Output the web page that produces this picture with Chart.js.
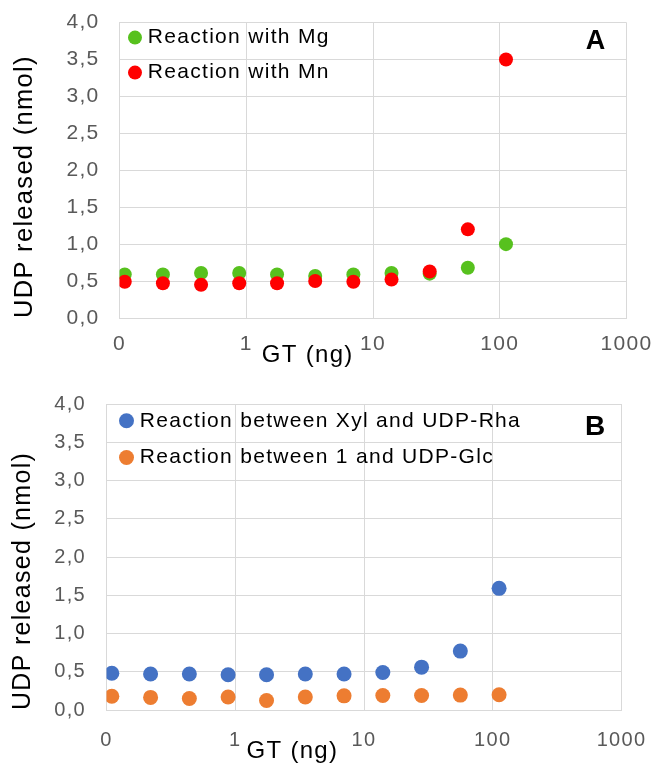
<!DOCTYPE html>
<html><head><meta charset="utf-8">
<script src="https://cdn.jsdelivr.net/npm/chart.js@4.4.1/dist/chart.umd.min.js"></script>
<style>
html,body{margin:0;padding:0;background:#fff;}
#wrap{position:relative;width:654px;height:764px;overflow:hidden;background:#fff;}
canvas{position:absolute;left:0;}
#cA{top:0;}
#cB{top:380px;}
</style></head><body>
<div id="wrap"><canvas id="cA" width="654" height="380"></canvas><canvas id="cB" width="654" height="384"></canvas></div>
<script>
// ---- data ----
const gtAmounts = [0.11, 0.22, 0.44, 0.88, 1.75, 3.5, 7, 14, 28, 56, 112];
const mgRelease = [0.59, 0.59, 0.61, 0.61, 0.59, 0.57, 0.59, 0.61, 0.60, 0.68, 1.00];
const mnRelease = [0.49, 0.47, 0.45, 0.47, 0.47, 0.50, 0.49, 0.52, 0.63, 1.20, 3.50];
const xylRhaRelease = [0.48, 0.47, 0.47, 0.46, 0.46, 0.47, 0.47, 0.49, 0.56, 0.77, 1.59];
const glcRelease = [0.18, 0.165, 0.15, 0.17, 0.125, 0.17, 0.185, 0.19, 0.19, 0.195, 0.20];
const xTickValues = [0.1, 1, 10, 100, 1000];
const xTickLabels = ['0', '1', '10', '100', '1000'];
const yTickValues = [0, 0.5, 1, 1.5, 2, 2.5, 3, 3.5, 4];
const yTickLabels = ['0,0', '0,5', '1,0', '1,5', '2,0', '2,5', '3,0', '3,5', '4,0'];
const seriesNamesA = ['Reaction with Mg', 'Reaction with Mn'];
const seriesNamesB = ['Reaction between Xyl and UDP-Rha', 'Reaction between 1 and UDP-Glc'];
const yAxisTitle = 'UDP released (nmol)';
const xAxisTitle = 'GT (ng)';
const panelLetters = ['A', 'B'];

const FONT = "'Liberation Sans', Arial, sans-serif";
const LS = '1.3px';
Chart.defaults.font.family = FONT;

const spacingPlugin = {
  id: 'spacing',
  beforeUpdate(c) { c.ctx.letterSpacing = LS; },
  beforeDraw(c) { c.ctx.letterSpacing = LS; }
};

const overlayPlugin = {
  id: 'overlay',
  afterDraw(c, args, o) {
    const ctx = c.ctx, a = c.chartArea;
    ctx.save();
    ctx.letterSpacing = LS;
    // inset legend
    c.data.datasets.forEach((ds, i) => {
      const y = a.top + o.legY + i * o.legDy;
      ctx.beginPath();
      ctx.fillStyle = ds.backgroundColor;
      ctx.arc(a.left + o.legX, y, o.legR, 0, Math.PI * 2);
      ctx.fill();
      ctx.fillStyle = '#000';
      ctx.font = o.legSize + 'px ' + FONT;
      ctx.textAlign = 'left';
      ctx.textBaseline = 'middle';
      ctx.fillText(ds.label, a.left + o.legTextX, y);
    });
    // panel letter
    ctx.font = 'bold ' + o.letterSize + 'px ' + FONT;
    ctx.textAlign = 'right';
    ctx.textBaseline = 'alphabetic';
    ctx.fillStyle = '#000';
    ctx.fillText(o.letter, a.right - o.letterRight, a.top + o.letterBase);
    // x axis title
    ctx.font = o.xTitleSize + 'px ' + FONT;
    ctx.textAlign = 'left';
    ctx.fillText(xAxisTitle, a.left + o.xTitleLeft, a.bottom + o.xTitleBase);
    ctx.restore();
  }
};

function clearPad(s) { s.paddingTop = 0; s.paddingBottom = 0; s.paddingLeft = 0; s.paddingRight = 0; }

function makeScales(cfg) {
  return {
    x: {
      type: 'logarithmic', min: 0.1, max: 1000,
      afterBuildTicks: s => { s.ticks = xTickValues.map(v => ({ value: v })); },
      afterFit: s => { s.height = cfg.xHeight; clearPad(s); },
      grid: { color: '#d9d9d9', lineWidth: 1, drawTicks: false },
      border: { display: true, color: '#d9d9d9', width: 1 },
      ticks: {
        color: '#595959', font: { size: cfg.tickSize }, padding: cfg.xTickPad,
        maxRotation: 0, autoSkip: false,
        callback: (v, i) => xTickLabels[i]
      }
    },
    y: {
      type: 'linear', min: 0, max: 4,
      afterBuildTicks: s => { s.ticks = yTickValues.map(v => ({ value: v })); },
      afterFit: s => { s.width = cfg.yWidth; clearPad(s); },
      grid: { color: '#d9d9d9', lineWidth: 1, drawTicks: false },
      border: { display: true, color: '#d9d9d9', width: 1 },
      ticks: {
        color: '#595959', font: { size: cfg.tickSize }, padding: cfg.yTickPad,
        autoSkip: false,
        callback: (v, i) => yTickLabels[i]
      },
      title: {
        display: true, text: yAxisTitle, align: 'start', color: '#000',
        font: { size: cfg.yTitleSize, lineHeight: 1.2 },
        padding: { top: cfg.yTitlePad, bottom: 0 }
      }
    }
  };
}

function points(ys) { return gtAmounts.map((x, i) => ({ x: x, y: ys[i] })); }

function makeChart(id, datasets, cfg, overlay) {
  return new Chart(document.getElementById(id), {
    type: 'scatter',
    data: { datasets: datasets },
    options: {
      responsive: false, animation: false, devicePixelRatio: 1,
      layout: { padding: cfg.pad },
      scales: makeScales(cfg),
      plugins: { legend: { display: false }, tooltip: { enabled: false }, overlay: overlay }
    },
    plugins: [spacingPlugin, overlayPlugin]
  });
}

makeChart('cA', [
  { label: seriesNamesA[0], data: points(mgRelease), backgroundColor: '#57c11e', borderWidth: 0, pointRadius: 7, pointHoverRadius: 7, order: 1 },
  { label: seriesNamesA[1], data: points(mnRelease), backgroundColor: '#ff0000', borderWidth: 0, pointRadius: 7, pointHoverRadius: 7, order: 0 }
], {
  pad: { left: 0, top: 22.5, right: 27.5, bottom: 0 },
  xHeight: 62, yWidth: 119.5, tickSize: 21, xTickPad: 13.4, yTickPad: 20,
  yTitleSize: 25.5, yTitlePad: 9.4
}, {
  legX: 15.5, legY: 15.1, legDy: 35, legR: 7, legTextX: 28.3, legSize: 21,
  letter: panelLetters[0], letterSize: 27, letterRight: 20, letterBase: 26.6,
  xTitleSize: 24, xTitleLeft: 142.3, xTitleBase: 43.7
});

makeChart('cB', [
  { label: seriesNamesB[0], data: points(xylRhaRelease), backgroundColor: '#4472c4', borderWidth: 0, pointRadius: 7.5, pointHoverRadius: 7.5, order: 1 },
  { label: seriesNamesB[1], data: points(glcRelease), backgroundColor: '#ed7d31', borderWidth: 0, pointRadius: 7.5, pointHoverRadius: 7.5, order: 0 }
], {
  pad: { left: 0, top: 24, right: 32.5, bottom: 0 },
  xHeight: 54, yWidth: 106.5, tickSize: 20, xTickPad: 18, yTickPad: 20.5,
  yTitleSize: 25, yTitlePad: 8
}, {
  legX: 20, legY: 16.8, legDy: 36.7, legR: 7.5, legTextX: 33.3, legSize: 21,
  letter: panelLetters[1], letterSize: 28, letterRight: 15, letterBase: 31,
  xTitleSize: 24, xTitleLeft: 140, xTitleBase: 48
});
</script>
</body></html>
